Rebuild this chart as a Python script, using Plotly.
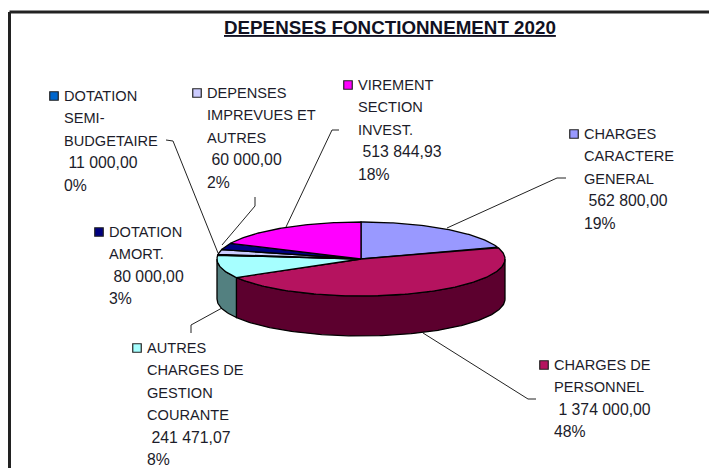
import math
import plotly.graph_objects as go

# Data, in pie order (clockwise from 12 o'clock)
categories = ["CHARGES CARACTERE GENERAL", "CHARGES DE PERSONNEL", "AUTRES CHARGES DE GESTION COURANTE",
              "DOTATION SEMI-BUDGETAIRE", "DEPENSES IMPREVUES ET AUTRES", "DOTATION AMORT.", "VIREMENT SECTION INVEST."]
values = [562800.00, 1374000.00, 241471.07, 11000.00, 60000.00, 80000.00, 513844.93]
value_labels = ["562 800,00", "1 374 000,00", "241 471,07", "11 000,00", "60 000,00", "80 000,00", "513 844,93"]
percent_labels = ["19%", "48%", "8%", "0%", "2%", "3%", "18%"]
wrapped_names = [["CHARGES", "CARACTERE", "GENERAL"], ["CHARGES DE", "PERSONNEL"],
                 ["AUTRES", "CHARGES DE", "GESTION", "COURANTE"], ["DOTATION", "SEMI-", "BUDGETAIRE"],
                 ["DEPENSES", "IMPREVUES ET", "AUTRES"], ["DOTATION", "AMORT."], ["VIREMENT", "SECTION", "INVEST."]]
title_text = "DEPENSES FONCTIONNEMENT 2020"

# Styles
top_colors = ["#9999FF", "#B5135F", "#A6FFFF", "#660066", "#CCCCFF", "#000080", "#FF00FF"]
side_colors = ["#4C4C80", "#5C002E", "#538080", "#330033", "#666680", "#000040", "#800080"]
marker_colors = ["#9999FF", "#B5135F", "#A6FFFF", "#0066CC", "#CCCCFF", "#000080", "#FF00FF"]

# Layout (pixels)
CX, CY, RX, RY, DEPTH = 361, 259, 144, 37, 40
LH = 22.3
FS = 14.6
FS_NUM = 15.8
TEXT_POS = [(584, 134), (554, 365), (147, 348), (64, 96), (207, 93), (109, 232), (358, 85)]
LEADERS = [
    [(447, 228), (557, 178), (566, 178)],
    [(423, 333), (528, 399), (536, 399)],
    [(222, 308), (191, 325), (191, 333)],
    [(218, 253), (173, 141), (166, 140)],
    [(222, 245), (255, 206), (255, 197)],
    [(286, 227), (332, 130), (339, 130)],
]


def project(t_deg):
    """Slight perspective foreshortening of the front-left quadrant."""
    if 180 < t_deg < 270:
        return t_deg - 7 * math.sin(math.radians(2 * t_deg))
    return t_deg


def pt(t_deg):
    t = math.radians(project(t_deg))
    return CX + RX * math.sin(t), CY - RY * math.cos(t)


def arc(a, b):
    n = max(2, int(abs(b - a)) + 2)
    return [pt(a + (b - a) * i / (n - 1)) for i in range(n)]


total = sum(values)
angles = [0]
for v in values:
    angles.append(angles[-1] + v / total * 360)

fig = go.Figure()
OUT = dict(color="#000000", width=1.3)

# walls (only the front half, 90..270 degrees, shows)
for i in range(len(values)):
    a, b = max(angles[i], 90), min(angles[i + 1], 270)
    if b <= a:
        continue
    top = arc(a, b)
    bot = [(x, y + DEPTH) for x, y in reversed(top)]
    pts = top + bot + [top[0]]
    fig.add_trace(go.Scatter(x=[p[0] for p in pts], y=[p[1] for p in pts], mode="lines", fill="toself",
                             fillcolor=side_colors[i], line=OUT, hoverinfo="skip"))

# top faces
for i in range(len(values)):
    pts = [(CX, CY)] + arc(angles[i], angles[i + 1]) + [(CX, CY)]
    fig.add_trace(go.Scatter(x=[p[0] for p in pts], y=[p[1] for p in pts], mode="lines", fill="toself",
                             fillcolor=top_colors[i], line=OUT, hoverinfo="skip", name=categories[i]))

# legend keys
fig.add_trace(go.Scatter(x=[p[0] - 10 for p in TEXT_POS], y=[p[1] for p in TEXT_POS], mode="markers",
                         marker=dict(symbol="square", size=8.5, color=marker_colors,
                                     line=dict(color="#222222", width=1.2)), hoverinfo="skip"))

annotations = []
for (x, y), names, val, pct in zip(TEXT_POS, wrapped_names, value_labels, percent_labels):
    lines = [(n, FS) for n in names] + [("\u00a0" + val, FS_NUM), (pct, FS_NUM)]
    for k, (line, size) in enumerate(lines):
        annotations.append(dict(x=x, y=y + k * LH, xref="x", yref="y", text=line, showarrow=False,
                                xanchor="left", yanchor="middle", borderpad=0, borderwidth=0,
                                font=dict(family="Liberation Sans", size=size, color="#1c1c2a")))
annotations.append(dict(x=390, y=27.5, xref="x", yref="y", text=f"<b><u>{title_text}</u></b>", showarrow=False,
                        xanchor="center", yanchor="middle",
                        font=dict(family="Liberation Sans", size=18.8, color="#111122")))

shapes = []
for line in LEADERS:
    path = "M " + " L ".join(f"{x},{y}" for x, y in line)
    shapes.append(dict(type="path", path=path, line=dict(color="#222222", width=1), layer="below"))
frame = dict(color="#222222", width=3)
shapes.append(dict(type="line", x0=9.5, x1=709, y0=12, y1=12, line=frame))
shapes.append(dict(type="line", x0=9.5, x1=9.5, y0=12, y1=468, line=frame))

fig.update_layout(
    width=709, height=468, margin=dict(l=0, r=0, t=0, b=0), showlegend=False,
    paper_bgcolor="white", plot_bgcolor="white",
    xaxis=dict(range=[0, 709], visible=False, fixedrange=True),
    yaxis=dict(range=[468, 0], visible=False, fixedrange=True),
    annotations=annotations, shapes=shapes,
)
fig.write_html("out.html", config={"displayModeBar": False},
               post_script="document.body.style.margin='0';")
